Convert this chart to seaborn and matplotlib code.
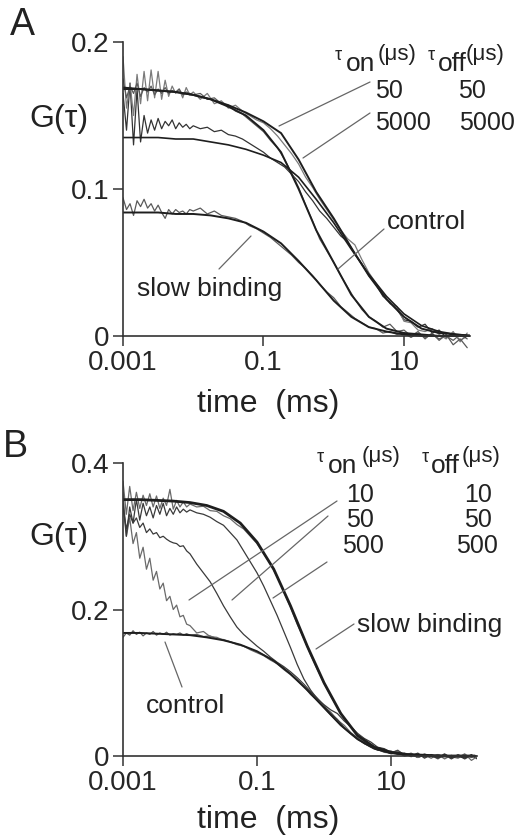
import numpy as np
import matplotlib
matplotlib.use("Agg")
import matplotlib.pyplot as plt
from matplotlib.ticker import NullLocator
import seaborn as sns

# === Datos (log10 del tiempo en ms) ===
# rejilla para curvas ajustadas
log_fit_a = [-3.0, -2.75, -2.5, -2.25, -2.0, -1.75, -1.5, -1.25, -1.0, -0.75, -0.5,
             -0.25, 0.0, 0.25, 0.5, 0.75, 1.0, 1.25, 1.5, 1.75, 2.0]
log_fit_b = log_fit_a + [2.25]

# rejilla para datos con ruido
log_dat_a = [-3.0, -2.95, -2.9, -2.85, -2.8, -2.75, -2.7, -2.65, -2.6, -2.55, -2.5,
             -2.45, -2.4, -2.35, -2.3, -2.25, -2.2, -2.15, -2.1, -2.05, -2.0,
             -1.9, -1.8, -1.7, -1.6, -1.5, -1.4, -1.3, -1.2, -1.1, -1.0,
             -0.9, -0.8, -0.7, -0.6, -0.5, -0.4, -0.3, -0.2, -0.1, 0.0,
             0.1, 0.2, 0.3, 0.4, 0.5, 0.6, 0.7, 0.8, 0.9, 1.0,
             1.1, 1.2, 1.3, 1.4, 1.5, 1.6, 1.7, 1.8, 1.9]
log_dat_b = log_dat_a + [2.0, 2.1, 2.2, 2.3]

# --- Panel A: ajustes
fit_a_control = [0.168, 0.168, 0.167, 0.166, 0.164, 0.161, 0.156, 0.150, 0.140, 0.125, 0.100,
                 0.072, 0.050, 0.028, 0.013, 0.005, 0.002, 0.001, 0.0, 0.0, 0.0]
fit_a_50 = [0.169, 0.168, 0.167, 0.166, 0.164, 0.161, 0.157, 0.152, 0.146, 0.138, 0.120,
            0.098, 0.080, 0.060, 0.041, 0.025, 0.013, 0.005, 0.002, 0.001, 0.0]
fit_a_5000 = [0.135, 0.135, 0.135, 0.134, 0.134, 0.132, 0.130, 0.127, 0.123, 0.118, 0.108,
              0.093, 0.077, 0.059, 0.042, 0.027, 0.015, 0.007, 0.003, 0.001, 0.0]
fit_a_slow = [0.084, 0.084, 0.084, 0.083, 0.083, 0.082, 0.080, 0.077, 0.071, 0.063, 0.051,
              0.038, 0.024, 0.013, 0.006, 0.003, 0.001, 0.0, 0.0, 0.0, 0.0]

# --- Panel A: datos
dat_a_50 = [0.190, 0.155, 0.172, 0.150, 0.178, 0.158, 0.180, 0.160, 0.181, 0.162, 0.180,
            0.161, 0.174, 0.163, 0.170, 0.165, 0.168, 0.162, 0.169, 0.164, 0.166,
            0.161, 0.165, 0.158, 0.160, 0.155, 0.157, 0.153, 0.150, 0.147, 0.145,
            0.141, 0.136, 0.130, 0.124, 0.117, 0.108, 0.101, 0.093, 0.086, 0.079,
            0.072, 0.066, 0.062, 0.052, 0.043, 0.036, 0.029, 0.022, 0.020, 0.010,
            0.009, 0.004, 0.003, 0.005, 0.001, -0.002, 0.003, -0.004, 0.002]
dat_a_control = [0.175, 0.162, 0.170, 0.165, 0.172, 0.163, 0.169, 0.166, 0.170, 0.164, 0.168,
                 0.165, 0.169, 0.165, 0.167, 0.166, 0.168, 0.164, 0.166, 0.165, 0.164,
                 0.165, 0.161, 0.162, 0.158, 0.157, 0.153, 0.151, 0.147, 0.143, 0.139,
                 0.133, 0.128, 0.120, 0.111, 0.101, 0.089, 0.078, 0.066, 0.058, 0.050,
                 0.041, 0.033, 0.025, 0.018, 0.013, 0.010, 0.006, 0.008, 0.003, 0.004,
                 0.000, 0.003, -0.002, 0.002, -0.003, 0.001, -0.006, -0.002, -0.008]
dat_a_5000 = [0.165, 0.140, 0.172, 0.130, 0.168, 0.132, 0.150, 0.138, 0.147, 0.140, 0.148,
              0.141, 0.146, 0.143, 0.147, 0.141, 0.145, 0.142, 0.144, 0.141, 0.143,
              0.141, 0.142, 0.139, 0.140, 0.137, 0.136, 0.134, 0.131, 0.128, 0.125,
              0.121, 0.118, 0.115, 0.110, 0.105, 0.098, 0.092, 0.085, 0.080, 0.074,
              0.068, 0.064, 0.056, 0.049, 0.041, 0.035, 0.027, 0.023, 0.018, 0.011,
              0.010, 0.006, 0.008, 0.002, 0.004, -0.001, 0.002, -0.003, 0.000]
dat_a_slow = [0.094, 0.086, 0.090, 0.082, 0.092, 0.088, 0.093, 0.087, 0.090, 0.085, 0.089,
              0.084, 0.080, 0.086, 0.083, 0.086, 0.084, 0.085, 0.083, 0.086, 0.085,
              0.087, 0.083, 0.085, 0.082, 0.081, 0.080, 0.078, 0.075, 0.073, 0.070,
              0.067, 0.063, 0.059, 0.055, 0.050, 0.046, 0.041, 0.035, 0.030, 0.026,
              0.020, 0.016, 0.012, 0.009, 0.006, 0.005, 0.002, 0.003, 0.001, 0.002,
              -0.001, 0.002, -0.001, 0.001, -0.002, 0.000, -0.003, 0.001, -0.002]

# --- Panel B: ajustes
fit_b_slow = [0.350, 0.350, 0.349, 0.348, 0.346, 0.342, 0.334, 0.318, 0.292, 0.255, 0.205,
              0.150, 0.100, 0.058, 0.028, 0.012, 0.005, 0.002, 0.001, 0.0, 0.0, 0.0]
fit_b_control = [0.168, 0.168, 0.167, 0.166, 0.165, 0.162, 0.158, 0.152, 0.143, 0.130, 0.112,
                 0.090, 0.066, 0.042, 0.023, 0.010, 0.004, 0.002, 0.001, 0.0, 0.0, 0.0]

# --- Panel B: datos
dat_b_slow = [0.375, 0.330, 0.368, 0.335, 0.360, 0.338, 0.356, 0.342, 0.358, 0.340, 0.355,
              0.338, 0.352, 0.342, 0.364, 0.337, 0.349, 0.340, 0.347, 0.340, 0.344,
              0.340, 0.341, 0.335, 0.334, 0.328, 0.324, 0.316, 0.310, 0.300, 0.290,
              0.276, 0.262, 0.245, 0.224, 0.203, 0.180, 0.160, 0.138, 0.118, 0.099,
              0.082, 0.066, 0.052, 0.040, 0.030, 0.022, 0.016, 0.010, 0.008, 0.004,
              0.006, 0.001, 0.004, -0.002, 0.003, -0.001, 0.002, -0.004, 0.001,
              -0.002, 0.003, -0.006, 0.000]
dat_b_500 = [0.345, 0.300, 0.340, 0.318, 0.350, 0.322, 0.345, 0.328, 0.340, 0.325, 0.342,
             0.330, 0.345, 0.328, 0.338, 0.330, 0.340, 0.332, 0.337, 0.333, 0.336,
             0.332, 0.330, 0.326, 0.320, 0.315, 0.305, 0.295, 0.280, 0.265, 0.250,
             0.232, 0.212, 0.192, 0.170, 0.148, 0.125, 0.105, 0.090, 0.078, 0.070,
             0.063, 0.058, 0.048, 0.040, 0.031, 0.024, 0.019, 0.012, 0.010, 0.005,
             0.007, 0.002, 0.000, 0.004, -0.003, 0.002, -0.002, 0.003, -0.004,
             0.001, -0.003, 0.002, -0.005]
dat_b_50 = [0.340, 0.310, 0.330, 0.318, 0.325, 0.312, 0.318, 0.305, 0.310, 0.303, 0.305,
            0.298, 0.300, 0.296, 0.293, 0.291, 0.290, 0.286, 0.287, 0.280, 0.276,
            0.262, 0.250, 0.238, 0.222, 0.205, 0.190, 0.176, 0.166, 0.158, 0.150,
            0.143, 0.135, 0.128, 0.122, 0.115, 0.107, 0.098, 0.088, 0.079, 0.069,
            0.058, 0.050, 0.039, 0.031, 0.024, 0.017, 0.013, 0.008, 0.007, 0.003,
            0.005, 0.000, 0.002, -0.002, 0.002, 0.000, -0.003, 0.002, -0.002,
            0.001, -0.004, 0.001, -0.002]
dat_b_10 = [0.360, 0.300, 0.325, 0.290, 0.305, 0.270, 0.285, 0.255, 0.270, 0.240, 0.252,
            0.228, 0.236, 0.212, 0.218, 0.200, 0.206, 0.190, 0.192, 0.180, 0.178,
            0.168, 0.170, 0.163, 0.162, 0.158, 0.156, 0.152, 0.150, 0.145, 0.141,
            0.137, 0.131, 0.126, 0.118, 0.111, 0.103, 0.095, 0.084, 0.076, 0.067,
            0.060, 0.049, 0.042, 0.032, 0.025, 0.019, 0.015, 0.010, 0.006, 0.007,
            0.002, 0.004, -0.001, 0.003, -0.002, 0.001, -0.004, 0.002, -0.001,
            -0.003, 0.002, -0.002, 0.001]
dat_b_control = [0.162, 0.168, 0.165, 0.171, 0.166, 0.169, 0.164, 0.168, 0.166, 0.170, 0.165,
                 0.168, 0.166, 0.169, 0.165, 0.167, 0.166, 0.168, 0.165, 0.167, 0.165,
                 0.166, 0.163, 0.164, 0.160, 0.159, 0.156, 0.153, 0.150, 0.146, 0.142,
                 0.138, 0.133, 0.127, 0.120, 0.112, 0.104, 0.095, 0.086, 0.076, 0.066,
                 0.056, 0.047, 0.038, 0.030, 0.023, 0.017, 0.012, 0.009, 0.005, 0.004,
                 0.008, 0.001, 0.003, -0.002, 0.001, -0.003, 0.002, 0.000, -0.003,
                 0.002, -0.002, 0.001, -0.004]

# === Estilo ===
sns.set_style("white")
plt.rcParams["font.family"] = ["Liberation Sans", "DejaVu Sans"]

W, H = 526, 835
fig = plt.figure(figsize=(W / 100, H / 100), dpi=100)
ax_a = fig.add_axes([123 / W, 1 - 353.6 / H, 347 / W, 311.6 / H])
ax_b = fig.add_axes([123 / W, 1 - 764.8 / H, 354 / W, 301.8 / H])

c_fit = "#1e1e1e"
c_dat = "#5a5a5a"


def curva(ax, log_t, g, color, lw):
    t = 10.0 ** np.asarray(log_t)
    sns.lineplot(x=t, y=g, ax=ax, color=color, lw=lw, estimator=None, sort=False)


# === Panel A
curva(ax_a, log_dat_a, dat_a_slow, c_dat, 0.9)
curva(ax_a, log_dat_a, dat_a_5000, "#333333", 0.9)
curva(ax_a, log_dat_a, dat_a_50, "#7a7a7a", 0.9)
curva(ax_a, log_dat_a, dat_a_control, c_dat, 0.9)
curva(ax_a, log_fit_a, fit_a_slow, c_fit, 1.4)
curva(ax_a, log_fit_a, fit_a_5000, c_fit, 1.2)
curva(ax_a, log_fit_a, fit_a_50, c_fit, 1.4)
curva(ax_a, log_fit_a, fit_a_control, c_fit, 1.4)

# === Panel B
curva(ax_b, log_dat_b, dat_b_control, c_dat, 0.9)
curva(ax_b, log_dat_b, dat_b_10, "#6a6a6a", 0.9)
curva(ax_b, log_dat_b, dat_b_50, "#3a3a3a", 0.9)
curva(ax_b, log_dat_b, dat_b_500, "#3a3a3a", 0.9)
curva(ax_b, log_dat_b, dat_b_slow, "#6a6a6a", 0.9)
curva(ax_b, log_fit_b, fit_b_control, c_fit, 1.4)
curva(ax_b, log_fit_b, fit_b_slow, c_fit, 2.0)

for ax, top, right, yt in ((ax_a, 0.2, 87, [0, 0.1, 0.2]), (ax_b, 0.4, 192, [0, 0.2, 0.4])):
    ax.set_xscale("log")
    ax.set_xlim(1e-3, right)
    ax.set_ylim(-0.012, top)
    ax.patch.set_alpha(0)
    for s in ("top", "right"):
        ax.spines[s].set_visible(False)
    ax.spines["bottom"].set_position(("data", 0))
    ax.spines["left"].set_bounds(0, top)
    for s in ("bottom", "left"):
        ax.spines[s].set_color("#333333")
        ax.spines[s].set_linewidth(1.2)
    ax.set_xticks([1e-3, 0.1, 10])
    ax.set_xticklabels(["0.001", "0.1", "10"])
    ax.xaxis.set_minor_locator(NullLocator())
    ax.set_yticks(yt)
    ax.set_yticklabels(["0"] + [f"{v:g}" for v in yt[1:]])
    ax.tick_params(direction="out", length=7, width=1.1, color="#333333",
                   labelsize=20, pad=3, left=True, bottom=True)
    ax.set_xlabel("")
    ax.set_ylabel("")


def txt(x, y, s, size=19, ha="left", **kw):
    fig.text(x / W, 1 - y / H, s, fontsize=size, ha=ha, va="baseline", color="#222222", **kw)


def linea(x0, y0, x1, y1):
    fig.add_artist(plt.Line2D([x0 / W, x1 / W], [1 - y0 / H, 1 - y1 / H],
                              transform=fig.transFigure, color="#666666", lw=0.9))


# === Textos panel A
txt(10, 35, "A", 27)
txt(29, 127, "G(τ)", 23)
txt(268, 412, "time  (ms)", 23, ha="center")
txt(335, 60, "τ", 13)
txt(346, 71, "on", 19)
txt(378, 60, "(μs)", 16)
txt(428, 60, "τ", 13)
txt(438, 71, "off", 19)
txt(466, 60, "(μs)", 16)
txt(403, 98, "50", 18, ha="right")
txt(486, 98, "50", 18, ha="right")
txt(431, 130, "5000", 18, ha="right")
txt(515, 130, "5000", 18, ha="right")
txt(387, 229, "control", 19)
txt(137, 296, "slow binding", 19)
linea(370, 82, 279, 126)
linea(370, 113, 303, 158)
linea(384, 229, 338, 269)
linea(219, 269, 251, 236)

# === Textos panel B
txt(3, 457, "B", 27)
txt(29, 545, "G(τ)", 23)
txt(268, 828, "time  (ms)", 23, ha="center")
txt(317, 462, "τ", 13)
txt(328, 473, "on", 19)
txt(362, 462, "(μs)", 16)
txt(422, 462, "τ", 13)
txt(431, 473, "off", 19)
txt(462, 462, "(μs)", 16)
txt(374, 502, "10", 18, ha="right")
txt(492, 502, "10", 18, ha="right")
txt(374, 527, "50", 18, ha="right")
txt(492, 527, "50", 18, ha="right")
txt(384, 553, "500", 18, ha="right")
txt(498, 553, "500", 18, ha="right")
txt(357, 632, "slow binding", 19)
txt(146, 713, "control", 19)
linea(337, 501, 189, 600)
linea(328, 516, 232, 600)
linea(327, 562, 273, 598)
linea(354, 624, 316, 649)
linea(182, 687, 165, 642)

fig.savefig("out.png", dpi=100)
